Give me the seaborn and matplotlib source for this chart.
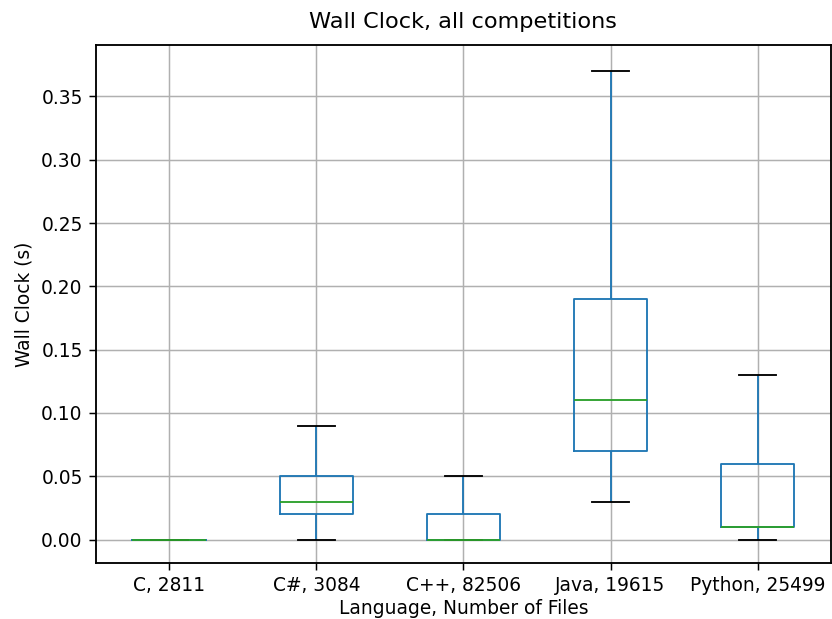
import matplotlib
matplotlib.use("Agg")
import matplotlib.pyplot as plt
import seaborn as sns
import pandas as pd

# Five-number summaries per language: whisker low, Q1, median, Q3, whisker high
languages = ["C, 2811", "C#, 3084", "C++, 82506", "Java, 19615", "Python, 25499"]
whisker_low = [0.00, 0.00, 0.00, 0.03, 0.00]
q1 = [0.00, 0.02, 0.00, 0.07, 0.01]
median = [0.00, 0.03, 0.00, 0.11, 0.01]
q3 = [0.00, 0.05, 0.02, 0.19, 0.06]
whisker_high = [0.00, 0.09, 0.05, 0.37, 0.13]

rows = []
for i, lang in enumerate(languages):
    for v in (whisker_low[i], q1[i], median[i], q3[i], whisker_high[i]):
        rows.append({"Language": lang, "Wall Clock": v})
df = pd.DataFrame(rows)

plt.rcParams["font.family"] = ["DejaVu Sans"]
DPI = 134
fig = plt.figure(figsize=(832 / DPI, 619 / DPI), dpi=DPI)
ax = fig.add_axes([0.115, 0.0905, 0.884, 0.8365])

sns.boxplot(
    data=df, x="Language", y="Wall Clock", ax=ax,
    order=languages, fill=False, width=0.5, whis=(0, 100), showfliers=False,
    color="#1f77b4", linewidth=1.0,
    boxprops={"color": "#1f77b4"},
    whiskerprops={"color": "#1f77b4"},
    capprops={"color": "black"},
    medianprops={"color": "#2ca02c", "zorder": 5},
)

ax.set_ylim(-0.0185, 0.3905)
ax.set_yticks([0.0, 0.05, 0.10, 0.15, 0.20, 0.25, 0.30, 0.35])
ax.set_yticklabels(["0.00", "0.05", "0.10", "0.15", "0.20", "0.25", "0.30", "0.35"])
ax.grid(True, color="#b0b0b0", linewidth=0.8)
ax.set_axisbelow(True)
for s in ax.spines.values():
    s.set_color("black")
    s.set_linewidth(1.0)
ax.tick_params(labelsize=10)
ax.set_title("Wall Clock, all competitions", fontsize=12, pad=9)
ax.set_xlabel("Language, Number of Files", fontsize=10, labelpad=2)
ax.set_ylabel("Wall Clock (s)", fontsize=10)

fig.savefig("out.png", dpi=DPI)
